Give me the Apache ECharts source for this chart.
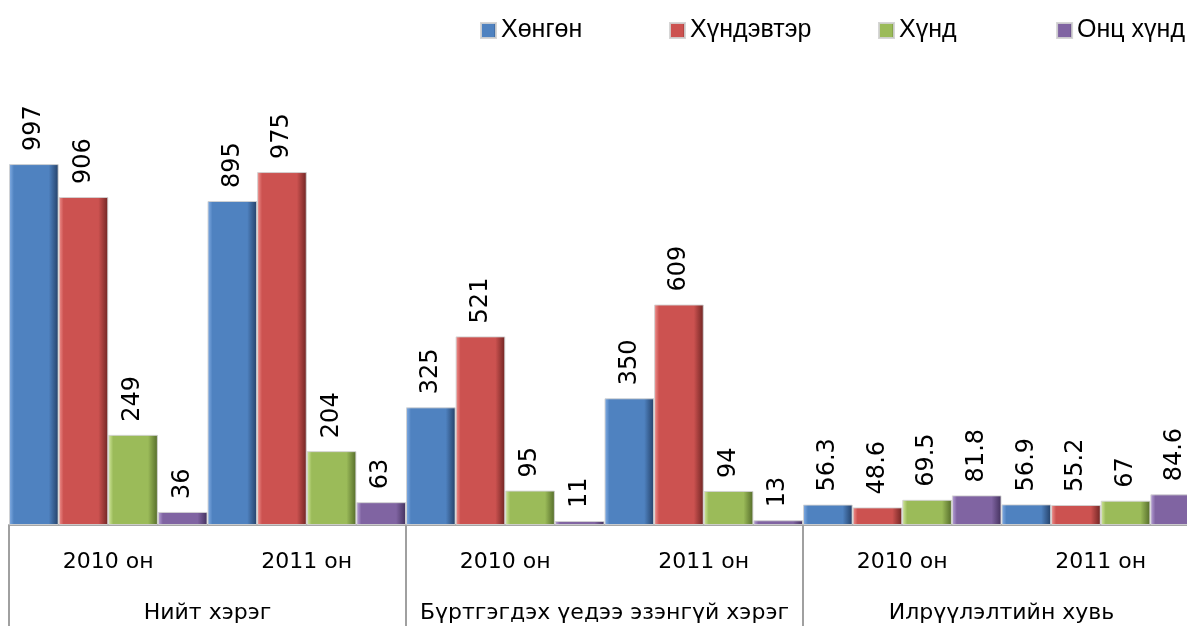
<!DOCTYPE html>
<html>
<head>
<meta charset="utf-8">
<script src="https://cdn.jsdelivr.net/npm/echarts@6/dist/echarts.min.js"></script>
<style>
html,body{margin:0;padding:0;background:#fff;overflow:hidden;width:1187px;height:626px;}
#chart{width:1200px;height:626px;}
</style>
</head>
<body>
<div id="chart"></div>
<script>
const categories = ['2010 он', '2011 он', '2010 он', '2011 он', '2010 он', '2011 он'];
const groups = ['Нийт хэрэг', 'Бүртгэгдэх үедээ эзэнгүй хэрэг', 'Илрүүлэлтийн хувь'];
const seriesNames = ['Хөнгөн', 'Хүндэвтэр', 'Хүнд', 'Онц хүнд'];
const khongon = [997, 895, 325, 350, 56.3, 56.9];
const khundevter = [906, 975, 521, 609, 48.6, 55.2];
const khund = [249, 204, 95, 94, 69.5, 67];
const ontsKhund = [36, 63, 11, 13, 81.8, 84.6];

const palette = [
  {light: '#86b0e6', base: '#4f82c0', dark: '#233f66'},
  {light: '#f29592', base: '#cc5250', dark: '#6e2422'},
  {light: '#d4ea9f', base: '#9bbb59', dark: '#536a29'},
  {light: '#bca6dc', base: '#8064a2', dark: '#42305c'}
];
const seriesData = [khongon, khundevter, khund, ontsKhund];
const legendPos = [{left: 475}, {left: 664}, {left: 873}, {right: 10}];

function grad(p) {
  return new echarts.graphic.LinearGradient(0, 0, 1, 0, [
    {offset: 0, color: p.light},
    {offset: 0.1, color: p.base},
    {offset: 0.8, color: p.base},
    {offset: 1, color: p.dark}
  ]);
}

const chart = echarts.init(document.getElementById('chart'));
chart.setOption({
  animation: false,
  backgroundColor: '#fff',
  legend: seriesNames.map((n, i) => Object.assign({
    data: [n],
    top: 13,
    icon: 'rect',
    itemWidth: 15,
    itemHeight: 15,
    itemGap: 4,
    textStyle: {fontFamily: 'Liberation Sans', fontSize: 25, color: '#000'}
  }, legendPos[i])),
  grid: {left: 9, right: 0, top: 163, bottom: 101, containLabel: false},
  xAxis: [
    {
      type: 'category',
      data: categories,
      position: 'bottom',
      axisLine: {show: true, lineStyle: {color: '#a6a6a6', width: 2}},
      axisTick: {show: false},
      axisLabel: {margin: 26, fontFamily: 'DejaVu Sans', fontSize: 22, color: '#000', interval: 0}
    },
    {
      type: 'category',
      data: groups,
      position: 'bottom',
      axisLine: {show: false},
      axisTick: {show: true, length: 102, lineStyle: {color: '#a0a0a0', width: 2}},
      axisLabel: {margin: 77, fontFamily: 'DejaVu Sans', fontSize: 22, color: '#000', interval: 0}
    }
  ],
  yAxis: {type: 'value', min: 0, max: 1000, show: false},
  series: seriesNames.map((n, i) => ({
    name: n,
    type: 'bar',
    data: seriesData[i],
    barGap: '0%',
    barCategoryGap: '0%',
    itemStyle: {color: grad(palette[i]), borderColor: 'rgba(210,210,210,0.9)', borderWidth: 1},
    label: {
      show: true,
      position: 'top',
      rotate: 90,
      align: 'left',
      verticalAlign: 'middle',
      distance: 13,
      fontFamily: 'DejaVu Sans',
      fontSize: 24,
      color: '#000'
    }
  }))
});
</script>
</body>
</html>
